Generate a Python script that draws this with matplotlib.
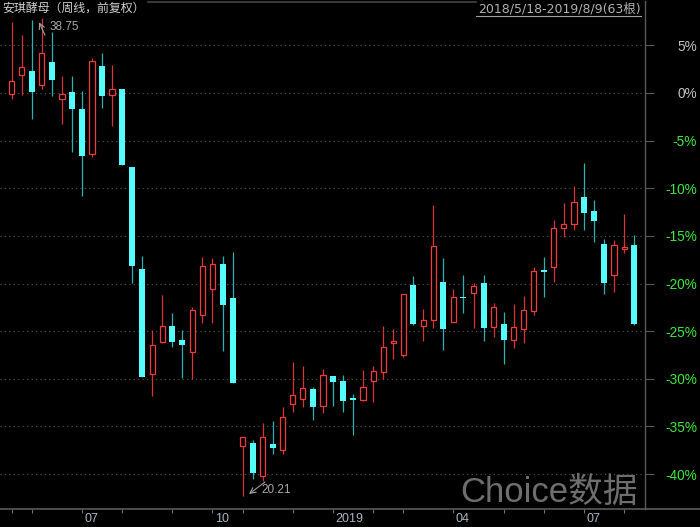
import matplotlib
matplotlib.use('Agg')
import matplotlib.pyplot as plt
from matplotlib.patches import Rectangle
from matplotlib.lines import Line2D

# ---- data (percent change vs. base, weekly candles 2018/5/18 - 2019/8/9) ----
opens = [-0.07, 1.92, 2.31, 0.87, 3.29, -0.60, 0.10, -1.65, -6.37, 2.83,
         -0.18, 0.39, -7.77, -18.48, -29.47, -26.11, -24.46, -25.93, -27.16, -23.34,
         -20.55, -17.92, -21.55, -37.09, -36.78, -40.24, -36.88, -37.51, -32.65, -32.16,
         -31.08, -32.83, -29.68, -30.24, -32.05, -32.20, -30.27, -29.26, -26.28, -27.54,
         -20.19, -24.43, -23.86, -19.84, -24.01, -21.39, -20.97, -19.92, -24.60, -24.28,
         -25.96, -24.81, -22.92, -18.58, -18.30, -14.20, -13.72, -10.95, -12.42, -15.88,
         -19.14, -16.35, -15.99]
highs = [7.49, 6.12, 7.70, 7.85, 6.44, 1.82, 1.75, 0.21, 3.64, 4.20,
         2.94, 0.39, -7.77, -17.08, -24.91, -21.21, -23.10, -24.91, -22.50, -17.25,
         -17.32, -17.14, -16.69, -36.15, -36.43, -34.68, -34.44, -32.97, -28.21, -28.66,
         -30.90, -28.98, -29.68, -29.61, -31.60, -29.08, -28.66, -24.46, -24.75, -21.13,
         -19.18, -22.71, -11.76, -17.35, -20.58, -19.11, -19.98, -19.11, -22.02, -22.99,
         -22.18, -21.28, -18.30, -17.25, -13.33, -11.58, -9.76, -7.38, -11.23, -15.33,
         -15.43, -12.67, -14.91]
lows = [-0.66, -0.18, -2.70, 0.39, -0.28, -3.25, -6.16, -10.78, -6.72, -1.54,
        -3.43, -7.56, -19.92, -29.82, -31.80, -26.28, -26.64, -29.95, -30.03, -24.12,
        -24.12, -27.09, -30.48, -42.31, -40.49, -40.70, -37.93, -37.93, -33.46, -32.93,
        -34.33, -33.56, -32.83, -33.46, -35.87, -32.34, -32.41, -30.03, -27.90, -27.75,
        -24.36, -26.01, -24.64, -27.01, -24.01, -23.07, -24.64, -26.01, -25.59, -28.45,
        -26.80, -26.28, -23.34, -21.39, -19.87, -15.09, -14.38, -14.41, -15.67, -21.10,
        -20.89, -16.77, -24.36]
closes = [1.26, 2.73, 0.14, 4.20, 1.40, -0.10, -1.71, -6.65, 3.36, -0.28,
          0.45, -7.56, -18.13, -29.82, -26.49, -24.49, -26.11, -26.46, -22.75, -18.19,
          -17.98, -22.26, -30.48, -36.15, -39.86, -36.15, -37.24, -33.98, -31.71, -30.97,
          -32.93, -29.61, -30.37, -32.30, -32.26, -30.90, -29.22, -26.67, -26.07, -21.13,
          -24.28, -23.86, -16.09, -24.81, -21.39, -21.52, -20.26, -24.64, -22.47, -25.90,
          -24.57, -22.81, -18.72, -18.82, -14.20, -13.78, -11.44, -12.57, -13.47, -19.98,
          -15.93, -16.17, -24.28]

tick_idx = [0, 2, 7, 11, 16, 20, 23, 28, 32, 36, 39, 44, 49, 53, 57, 61]
label_idx = [7, 20, 32, 44, 57]
label_txt = ['07', '10', '2019', '04', '07']
y_ticks = [5, 0, -5, -10, -15, -20, -25, -30, -35, -40]
high_label = '38.75'
low_label = '20.21'
title_left = '安琪酵母（周线，前复权）'
title_right = '2018/5/18-2019/8/9(63根)'

# ---- figure ----
W, H = 700, 527
fig = plt.figure(figsize=(W / 100, H / 100), dpi=100, facecolor='black')
ax = fig.add_axes([0, 18 / H, 645 / W, (509 - 1) / H])
ax.set_facecolor('black')

n = len(opens)
ax.set_xlim(-1.165, 63.08)
ax.set_ylim((93 - 509) / 9.525, (93 - 1) / 9.525)

RED_BODY = '#f03c3c'
RED_WICK = '#d83434'
CY_BODY = '#55fcfc'
CY_WICK = '#2ab2b2'

for yv in y_ticks:
    ax.axhline(yv, color='#555555', lw=0.8, ls=(0, (1, 3)), zorder=0)

for i in range(n):
    o, h, l, c = opens[i], highs[i], lows[i], closes[i]
    up = c > o
    bot = min(o, c)
    ht = max(abs(c - o), 0.14)
    if up:
        ax.vlines(i, l, h, color=RED_WICK, lw=0.9, zorder=2)
        ax.add_patch(Rectangle((i - 0.26, bot), 0.52, ht, facecolor='black',
                               edgecolor=RED_BODY, lw=0.9, zorder=3))
    else:
        ax.vlines(i, l, h, color=CY_WICK, lw=0.9, zorder=2)
        ax.add_patch(Rectangle((i - 0.3, bot), 0.6, ht, facecolor=CY_BODY,
                               edgecolor='none', lw=0, zorder=3))

# spines
for s in ['top', 'left', 'bottom']:
    ax.spines[s].set_visible(False)
ax.spines['right'].set_color('#5a5a5a')
ax.spines['right'].set_linewidth(1)

# y axis on the right
ax.yaxis.tick_right()
ax.set_yticks(y_ticks)
ax.set_yticklabels([f'{v}%' for v in y_ticks])
ax.tick_params(axis='y', length=6.5, width=0.75, color='#5a5a5a', pad=31,
               labelsize=9.8)
for lab, v in zip(ax.get_yticklabels(), y_ticks):
    lab.set_horizontalalignment('right')
    lab.set_fontfamily('Liberation Sans')
    lab.set_color('#c0c0c0' if v >= 0 else '#3ce83c')

# x axis
ax.set_xticks(tick_idx)
ax.set_xticklabels([''] * len(tick_idx))
ax.tick_params(axis='x', length=3, width=0.75, color='#707070', direction='out')
for li, lt in zip(label_idx, label_txt):
    ax.annotate(lt, xy=(li, 0), xycoords=('data', 'axes fraction'),
                xytext=(2.5, -4), textcoords='offset pixels', ha='left', va='top',
                color='#a8b4c0', fontsize=9, fontfamily='Liberation Sans',
                annotation_clip=False)

# bottom line across the full width
fig.add_artist(Line2D([0, 1], [1 - 509 / H, 1 - 509 / H],
                      color='#5a5a5a', lw=1.2))
# top line segment
fig.add_artist(Line2D([148 / W, 476 / W], [1 - 1.5 / H, 1 - 1.5 / H],
                      color='#444444', lw=1.2))

# high / low annotations
imax = max(range(n), key=lambda k: highs[k])
imin = min(range(n), key=lambda k: lows[k])
ax.annotate('', xy=(imax - 0.28, highs[imax] - 0.42), xycoords='data',
            xytext=(6, -13), textcoords='offset pixels',
            arrowprops=dict(arrowstyle='->', color='#a0a0a0', lw=0.8,
                            shrinkA=0, shrinkB=0))
ax.annotate(high_label, xy=(imax, highs[imax]), xytext=(8, -9),
            textcoords='offset pixels', ha='left', va='center',
            color='#a8a8a8', fontsize=8.5, fontfamily='Liberation Sans')
ax.annotate('', xy=(imin + 0.64, lows[imin] + 0.21), xycoords='data',
            xytext=(16, 12), textcoords='offset pixels',
            arrowprops=dict(arrowstyle='->', color='#a0a0a0', lw=0.8,
                            shrinkA=0, shrinkB=0))
ax.annotate(low_label, xy=(imin, lows[imin]), xytext=(18.5, 6),
            textcoords='offset pixels', ha='left', va='center',
            color='#a8a8a8', fontsize=8.5, fontfamily='Liberation Sans')

# titles
fig.text(2 / W, 1 - 8.5 / H, title_left, ha='left', va='center', color='#cfcfcf',
         fontsize=8.6, fontfamily=['Noto Sans CJK SC', 'DejaVu Sans'])
fig.text(641 / W, 1 - 8.5 / H, title_right, ha='right', va='center',
         color='#b0b0b0', fontsize=9,
         fontfamily=['DejaVu Sans', 'Noto Sans CJK SC'])
fig.add_artist(Line2D([476 / W, 641 / W], [1 - 15.5 / H, 1 - 15.5 / H],
                      color='#a0a0a0', lw=0.8))

# watermark
fig.text(460 / W, 25 / H, 'Choice数据', ha='left', va='baseline', color='#6e6e6e',
         fontsize=25, fontfamily=['Liberation Sans', 'Noto Sans CJK SC'])

fig.savefig('out.png', dpi=100, facecolor='black')
